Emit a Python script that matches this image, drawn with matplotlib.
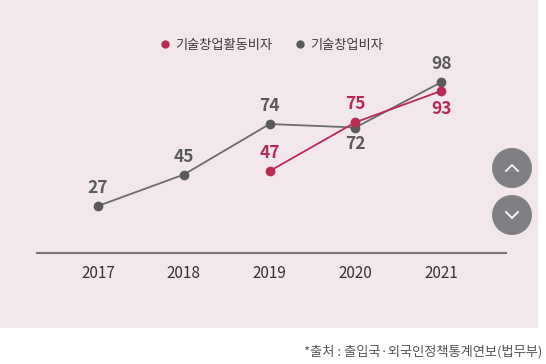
import matplotlib
matplotlib.use("Agg")
import matplotlib.pyplot as plt
from matplotlib.patches import Rectangle, Ellipse
from matplotlib.lines import Line2D

plt.rcParams['font.family'] = ['Noto Sans CJK KR', 'DejaVu Sans']

years = ["2017", "2018", "2019", "2020", "2021"]
startup_visa = [27, 45, 74, 72, 98]          # 기술창업비자
activity_years = ["2019", "2020", "2021"]
activity_visa = [47, 75, 93]                 # 기술창업활동비자

# label placement: True = above point
startup_above = [True, True, True, False, True]
activity_above = [True, True, False]

RED = "#b92a52"
GRAY = "#5a5a5a"
PINK = "#f2e7eb"

W, H = 546, 364
fig = plt.figure(figsize=(W / 100, H / 100), dpi=100)
fig.patch.set_facecolor("white")

# pink panel
fig.add_artist(Rectangle((0, 1 - 328 / H), 538 / W, 328 / H,
                         transform=fig.transFigure, facecolor=PINK,
                         edgecolor="none", zorder=0))

ax = fig.add_axes([37 / W, 111 / H, 469 / W, 244 / H])
ax.set_facecolor("none")

xs = list(range(len(years)))
xa = [years.index(y) for y in activity_years]

ax.plot(xs, startup_visa, color="#6b6b6b", lw=1.3, marker="o", ms=6,
        mfc=GRAY, mec=GRAY, zorder=3, label="기술창업비자")
ax.plot(xa, activity_visa, color=RED, lw=1.3, marker="o", ms=6,
        mfc=RED, mec=RED, zorder=4, label="기술창업활동비자")

for x, v, up in zip(xs, startup_visa, startup_above):
    ax.annotate(str(v), (x, v), xytext=(0, 13 if up else -12),
                textcoords="offset points", ha="center",
                va="center", fontsize=12.5, color=GRAY, fontweight="bold")
for x, v, up in zip(xa, activity_visa, activity_above):
    ax.annotate(str(v), (x, v), xytext=(0, 13 if up else -13),
                textcoords="offset points", ha="center",
                va="center", fontsize=12.5, color=RED, fontweight="bold")

ax.set_xlim(-0.711, 4.755)
ax.set_ylim(0, 140)
ax.set_xticks(xs)
ax.set_xticklabels(years, fontsize=11, color="#333333", fontweight="medium")
ax.set_yticks([])
ax.tick_params(axis="x", length=0, pad=9)
for s in ["top", "left", "right"]:
    ax.spines[s].set_visible(False)
ax.spines["bottom"].set_color("#777777")
ax.spines["bottom"].set_linewidth(1.5)

# legend
handles, labels = ax.get_legend_handles_labels()
leg = fig.legend(handles[::-1], labels[::-1], loc="center",
                 bbox_to_anchor=(272 / W, 1 - 45 / H), ncol=2,
                 frameon=False, fontsize=9.5, handlelength=0.6,
                 handletextpad=0.45, columnspacing=1.8,
                 labelcolor="#3a3a3a", prop={"weight": "medium", "size": 9.5})
for h in leg.legend_handles:
    h.set_linestyle("none")
    h.set_markersize(5)

# scroll buttons
for cy, d in [(168, 1), (215, -1)]:
    fig.add_artist(Ellipse((512 / W, 1 - cy / H), 40 / W, 40 / H,
                           transform=fig.transFigure, facecolor="#808084",
                           edgecolor="none", zorder=5))
    fig.add_artist(Line2D([506 / W, 512 / W, 518 / W],
                          [1 - (cy + 3 * d) / H, 1 - (cy - 3 * d) / H,
                           1 - (cy + 3 * d) / H],
                          transform=fig.transFigure, color="white",
                          lw=1.3, zorder=6))

fig.text(542 / W, 1 - 352 / H, "*출처 : 출입국·외국인정책통계연보(법무부)",
         ha="right", va="center", fontsize=9.5, color="#555555")

fig.savefig("out.png", dpi=100, facecolor=fig.get_facecolor())
